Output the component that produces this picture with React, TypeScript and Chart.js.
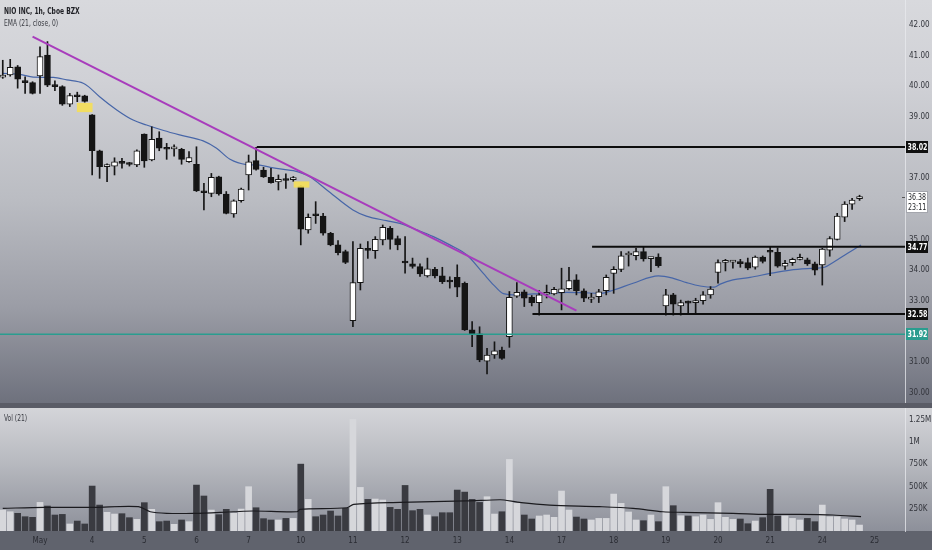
import React, { useEffect, useRef } from "react";
import { Chart, registerables } from "chart.js";

Chart.register(...registerables);

const FONT = "'Liberation Sans Narrow', 'DejaVu Sans Condensed', 'Liberation Sans', Arial, sans-serif";

// ---- data ----
const barsBeforeMay3 = 5; // hourly bars of Apr 30 visible before May 3 09:30

const opens = [
  40.30, 40.37, 40.64, 40.18, 40.12,
  40.34, 41.02, 40.04, 39.99, 39.42, 39.70, 39.69,
  39.07, 37.90, 37.38, 37.40, 37.55, 37.49, 37.44,
  38.44, 37.60, 38.31, 37.98, 37.96, 37.95, 37.54,
  37.46, 36.59, 36.51, 37.05, 36.49, 35.84, 36.27,
  37.11, 37.58, 37.27, 37.03, 36.88, 36.95, 36.96,
  36.75, 35.32, 35.83, 35.77, 35.21, 34.83, 34.61,
  32.36, 33.60, 34.72, 34.64, 34.99, 35.37, 35.04,
  34.29, 34.21, 34.12, 33.82, 34.03, 33.82, 33.67,
  33.77, 33.58, 32.06, 31.93, 31.04, 31.24, 31.40,
  31.84, 33.16, 33.30, 33.12, 32.95, 33.22, 33.23,
  33.27, 33.40, 33.69, 33.33, 33.06, 33.14, 33.34,
  33.90, 34.03, 34.50, 34.48, 34.61, 34.38, 34.43,
  32.84, 33.20, 32.84, 32.98, 32.95, 33.01, 33.20,
  33.93, 34.26, 34.27, 34.29, 34.25, 34.10, 34.43,
  34.63, 34.59, 34.14, 34.25, 34.36, 34.34, 34.21,
  34.18, 34.66, 35.01, 35.73, 36.16, 36.34,
];
const highs = [
  40.85, 40.88, 40.68, 40.31, 40.15,
  41.29, 41.46, 40.18, 40.02, 39.77, 39.81, 39.71,
  39.08, 37.92, 37.47, 37.67, 37.65, 37.52, 37.93,
  38.45, 38.68, 38.52, 38.14, 38.09, 37.98, 37.87,
  38.03, 36.84, 37.16, 37.07, 36.57, 36.30, 36.68,
  37.76, 38.01, 37.36, 37.33, 37.11, 37.15, 37.06,
  36.77, 35.84, 36.24, 35.86, 35.24, 34.97, 34.66,
  34.94, 34.86, 34.94, 35.10, 35.48, 35.43, 35.12,
  35.10, 34.40, 34.21, 34.40, 34.10, 34.10, 33.79,
  34.18, 33.62, 32.33, 32.16, 31.46, 31.67, 31.50,
  33.31, 33.60, 33.36, 33.18, 33.34, 33.52, 33.45,
  34.07, 34.10, 33.86, 33.40, 33.25, 33.38, 33.85,
  34.12, 34.61, 34.61, 34.72, 34.77, 34.42, 34.54,
  33.38, 33.25, 33.03, 33.00, 33.09, 33.31, 33.47,
  34.34, 34.36, 34.33, 34.36, 34.40, 34.47, 34.47,
  34.77, 34.73, 34.33, 34.40, 34.53, 34.40, 34.27,
  34.72, 35.10, 35.86, 36.24, 36.35, 36.45,
];
const lows = [
  40.26, 40.33, 39.94, 39.77, 39.75,
  39.77, 39.99, 39.86, 39.38, 39.34, 39.50, 39.48,
  37.11, 37.00, 36.89, 37.11, 37.33, 37.40, 37.38,
  37.36, 37.57, 37.90, 37.62, 37.72, 37.46, 37.52,
  36.57, 35.97, 36.40, 36.45, 35.84, 35.73, 36.22,
  36.62, 37.27, 37.03, 36.84, 36.62, 36.67, 36.90,
  34.83, 35.21, 35.53, 35.15, 34.80, 34.50, 34.22,
  32.16, 33.36, 34.39, 34.39, 34.83, 34.69, 34.67,
  33.91, 34.07, 33.80, 33.78, 33.75, 33.57, 33.42,
  33.14, 32.04, 31.51, 31.02, 30.62, 31.13, 31.10,
  31.49, 33.12, 32.82, 32.84, 32.54, 33.10, 33.20,
  32.71, 33.36, 33.20, 32.98, 32.95, 32.95, 33.20,
  33.25, 33.96, 34.14, 34.34, 34.30, 33.96, 34.10,
  32.54, 32.54, 32.54, 32.61, 32.61, 32.90, 33.09,
  33.58, 33.98, 34.07, 34.10, 34.02, 34.04, 34.24,
  33.83, 34.10, 34.03, 34.16, 34.34, 34.16, 33.85,
  33.52, 34.46, 34.99, 35.59, 35.99, 36.28,
];
const closes = [
  40.35, 40.62, 40.23, 40.12, 39.77,
  40.97, 40.04, 39.99, 39.42, 39.70, 39.66, 39.51,
  37.90, 37.38, 37.44, 37.54, 37.49, 37.45, 37.90,
  37.57, 38.27, 37.98, 37.95, 37.97, 37.62, 37.68,
  36.59, 36.53, 37.03, 36.49, 35.86, 36.27, 36.65,
  37.54, 37.29, 37.05, 36.86, 36.97, 36.93, 36.97,
  35.34, 35.73, 35.78, 35.21, 34.83, 34.58, 34.26,
  33.60, 34.72, 34.65, 35.01, 35.40, 35.01, 34.83,
  34.24, 34.13, 33.88, 34.05, 33.82, 33.63, 33.62,
  33.45, 32.06, 31.90, 31.08, 31.24, 31.38, 31.13,
  33.12, 33.28, 33.09, 32.95, 33.20, 33.25, 33.38,
  33.40, 33.67, 33.34, 33.09, 33.09, 33.30, 33.77,
  34.03, 34.47, 34.52, 34.61, 34.37, 34.40, 34.15,
  33.20, 32.90, 32.95, 32.93, 33.01, 33.20, 33.39,
  34.25, 34.29, 34.29, 34.22, 34.07, 34.43, 34.29,
  34.59, 34.14, 34.23, 34.36, 34.38, 34.21, 34.01,
  34.69, 35.04, 35.77, 36.16, 36.29, 36.38,
];
// volume in thousands
const volumesK = [
  236, 217, 199, 161, 154,
  322, 281, 180, 187, 79, 112, 79,
  506, 292, 210, 191, 195, 150, 131,
  319, 244, 105, 112, 75, 124, 105,
  517, 394, 236, 184, 244, 199, 247,
  499, 262, 139, 124, 124, 142, 142,
  753, 356, 161, 180, 225, 169, 255,
  1256, 491, 356, 360, 349, 266, 244,
  513, 229, 244, 180, 161, 206, 206,
  461, 438, 356, 322, 386, 191, 217,
  806, 311, 180, 135, 169, 180, 154,
  450, 236, 157, 135, 124, 142, 142,
  416, 311, 214, 124, 116, 180, 105,
  499, 285, 172, 169, 161, 180, 131,
  319, 154, 131, 135, 82, 112, 150,
  469, 169, 169, 142, 124, 142, 105,
  292, 161, 161, 135, 124, 67,
];

// EMA(21) (bar position, price)
const emaIdx = [-5, -2.7, -0.9, 1.8, 3.6, 5.8, 6.5, 8, 10.3, 12.5, 14.3, 16.6, 19, 21.9, 23.7, 25.5, 27.7, 29.5, 30.9, 32.7, 34, 36.2, 38.5, 42, 43.8, 46.5, 48.3, 50.6, 52.8, 55, 57.3, 59.5, 60.9, 62.2, 64, 66.2, 68.5, 70.7, 72.9, 75.2, 77, 79.6, 83, 85, 86.8, 88.6, 90.5, 91.3, 93, 95.3, 98, 100.7, 104, 105.3, 106.6, 108.4, 110.2];
const emaVal = [40.42, 40.39, 40.30, 40.29, 40.21, 40.10, 39.99, 39.66, 39.23, 38.90, 38.74, 38.56, 38.40, 38.22, 37.98, 37.62, 37.45, 37.43, 37.36, 37.29, 37.25, 37.05, 36.62, 35.97, 35.77, 35.62, 35.53, 35.32, 35.10, 34.83, 34.50, 33.90, 33.52, 33.24, 33.20, 33.23, 33.25, 33.28, 33.27, 33.25, 33.36, 33.58, 33.82, 33.74, 33.60, 33.49, 33.45, 33.55, 33.69, 33.77, 33.90, 34.01, 34.07, 34.10, 34.28, 34.56, 34.83];

// Volume MA(21), thousands
const volMaIdx = [-5, 0.5, 7.2, 13.2, 14.8, 17, 20.6, 26, 28.6, 34.5, 34.9, 41.2, 42.1, 48.3, 57.2, 61.7, 62.3, 64.6, 68.4, 75.1, 79.6, 83.6, 86.3, 93, 97.4, 101.9, 106.4, 110.2];
const volMaK = [255, 266, 266, 274, 217, 199, 199, 217, 225, 217, 244, 262, 300, 322, 340, 352, 349, 319, 292, 274, 255, 217, 210, 199, 187, 187, 180, 161];

const dayTickIdx = [0, 7, 14, 21, 28, 35, 42, 49, 56, 63, 70, 77, 84, 91, 98, 105, 112];
const dayTickLabels = ["May", "4", "5", "6", "7", "10", "11", "12", "13", "14", "17", "18", "19", "20", "21", "24", "25"];
const priceTicks = [30, 31, 33, 34, 35, 37, 39, 40, 41, 42];
const volTicksK = [250, 500, 750, 1000, 1250];
const volTickLabels = ["250K", "500K", "750K", "1M", "1.25M"];

// drawings
const levelPrices = [38.02, 34.77, 32.58];
const levelStartIdx = [29.1, 74.1, 66.1];
const supportLevel = 31.92;
const trendIdx = [-1, 72];
const trendPrice = [41.62, 32.69];
const highlightIdx = [6, 35.1];
const highlightLow = [39.17, 36.71];
const highlightHigh = [39.45, 36.89];
const lastPrice = 36.38;
const countdown = "23:11";

// view ranges
const xMin = -5.37;
const xMax = 116.1;
const priceMin = 29.675;
const priceMax = 42.815;
const volMaxK = 1385;

const DARK = "#151515";
const VOL_UP = "#d6d7db";
const VOL_DOWN = "#3a3b41";
const AXIS_TXT = "#33353c";

const idx = opens.map((_, k) => k - barsBeforeMay3);
const isUp = closes.map((c, k) => c >= opens[k]);

const priceLabelsPlugin = {
  id: "priceLabels",
  afterDraw(chart: any) {
    const { ctx, chartArea } = chart;
    const y = chart.scales.y;
    const x0 = chartArea.right + 1;
    const sx = 0.78;
    ctx.save();
    ctx.textBaseline = "middle";
    ctx.textAlign = "left";
    const txt = (s: string, x: number, yy: number) => {
      ctx.save();
      ctx.translate(x, yy);
      ctx.scale(sx, 1);
      ctx.fillText(s, 0, 0);
      ctx.restore();
    };
    const box = (price: number, bg: string, fg: string) => {
      const py = Math.round(y.getPixelForValue(price));
      ctx.fillStyle = bg;
      ctx.fillRect(x0, py - 6, 22, 12);
      ctx.fillStyle = fg;
      ctx.font = `bold 9px ${FONT}`;
      txt(price.toFixed(2), x0 + 1.5, py + 0.5);
    };
    levelPrices.forEach((p) => box(p, "#101010", "#ffffff"));
    box(supportLevel, "#2a9d8f", "#ffffff");
    const py = Math.round(y.getPixelForValue(lastPrice));
    ctx.fillStyle = "#ffffff";
    ctx.fillRect(x0, py - 6, 22, 22);
    ctx.strokeStyle = "#a4a6ad";
    ctx.lineWidth = 1;
    ctx.strokeRect(x0 + 0.5, py - 5.5, 21, 21);
    ctx.fillStyle = "#222428";
    ctx.font = `9px ${FONT}`;
    txt(lastPrice.toFixed(2), x0 + 2, py + 0.5);
    txt(countdown, x0 + 2, py + 10.5);
    ctx.strokeStyle = "#555";
    ctx.beginPath();
    ctx.moveTo(chartArea.right - 3, py + 0.5);
    ctx.lineTo(chartArea.right, py + 0.5);
    ctx.stroke();
    ctx.restore();
  },
};

function hLine(price: number, from: number, color: string, width: number, order: number) {
  return {
    type: "line" as const,
    data: [
      { x: from, y: price },
      { x: xMax, y: price },
    ],
    borderColor: color,
    borderWidth: width,
    pointRadius: 0,
    order,
  };
}

export default function App() {
  const priceRef = useRef<HTMLCanvasElement>(null);
  const volRef = useRef<HTMLCanvasElement>(null);

  useEffect(() => {
    const tickFont = { family: FONT, size: 8 };
    const priceChart = new Chart(priceRef.current as HTMLCanvasElement, {
      type: "bar",
      data: {
        datasets: [
          {
            type: "line",
            data: emaIdx.map((x, k) => ({ x, y: emaVal[k] })),
            borderColor: "#4766a8",
            borderWidth: 1.2,
            pointRadius: 0,
            tension: 0.4,
            cubicInterpolationMode: "monotone",
            order: 5,
          } as any,
          {
            type: "bar",
            data: idx.map((x, k) => ({ x, y: [lows[k], highs[k]] })),
            backgroundColor: DARK,
            barThickness: 1,
            grouped: false,
            order: 4,
          } as any,
          {
            type: "bar",
            data: idx.map((x, k) => ({ x, y: [opens[k], closes[k]] })),
            backgroundColor: isUp.map((u) => (u ? "#ffffff" : DARK)),
            borderColor: DARK,
            borderWidth: 1,
            borderSkipped: false,
            barThickness: 6,
            minBarLength: 2,
            grouped: false,
            order: 3,
          } as any,
          {
            type: "line",
            data: trendIdx.map((x, k) => ({ x, y: trendPrice[k] })),
            borderColor: "#a83cbc",
            borderWidth: 2,
            pointRadius: 0,
            order: 2,
          } as any,
          ...levelPrices.map((p, k) => hLine(p, levelStartIdx[k], "#0d0d0d", 2, 2) as any),
          hLine(supportLevel, xMin, "#2a9d8f", 1.5, 2) as any,
          {
            type: "bar",
            data: highlightIdx.map((x, k) => ({ x, y: [highlightLow[k], highlightHigh[k]] })),
            backgroundColor: "rgba(244,222,88,0.92)",
            barThickness: 15,
            grouped: false,
            order: 1,
          } as any,
        ],
      },
      options: {
        animation: false,
        responsive: false,
        events: [],
        layout: { padding: 0 },
        plugins: { legend: { display: false }, tooltip: { enabled: false } },
        scales: {
          x: { type: "linear", min: xMin, max: xMax, offset: false, display: false },
          y: {
            type: "linear",
            position: "right",
            min: priceMin,
            max: priceMax,
            grid: { display: false, drawTicks: false },
            border: { display: true, color: "rgba(232,233,237,0.75)" },
            ticks: {
              padding: 4,
              color: AXIS_TXT,
              font: tickFont,
              callback: (v: any) => Number(v).toFixed(2),
            },
            afterBuildTicks: (a: any) => {
              a.ticks = priceTicks.map((v) => ({ value: v }));
            },
            afterFit: (a: any) => {
              a.width = 27;
              a.paddingTop = 0;
              a.paddingBottom = 0;
            },
          },
        },
      } as any,
      plugins: [priceLabelsPlugin],
    });

    const volChart = new Chart(volRef.current as HTMLCanvasElement, {
      type: "bar",
      data: {
        datasets: [
          {
            type: "line",
            data: volMaIdx.map((x, k) => ({ x, y: volMaK[k] })),
            borderColor: "#1b1b1f",
            borderWidth: 1.2,
            pointRadius: 0,
            tension: 0.3,
            order: 1,
          } as any,
          {
            type: "bar",
            data: idx.map((x, k) => ({ x, y: volumesK[k] })),
            backgroundColor: isUp.map((u) => (u ? VOL_UP : VOL_DOWN)),
            barThickness: 6,
            grouped: false,
            order: 2,
          } as any,
        ],
      },
      options: {
        animation: false,
        responsive: false,
        events: [],
        layout: { padding: 0 },
        plugins: { legend: { display: false }, tooltip: { enabled: false } },
        scales: {
          x: {
            type: "linear",
            min: xMin,
            max: xMax,
            offset: false,
            grid: { display: false, drawTicks: false },
            border: { display: false },
            ticks: {
              autoSkip: false,
              maxRotation: 0,
              padding: 5,
              color: "#2a2c33",
              font: tickFont,
              callback: (v: any) => {
                const j = dayTickIdx.indexOf(Number(v));
                return j >= 0 ? dayTickLabels[j] : "";
              },
            },
            afterBuildTicks: (a: any) => {
              a.ticks = dayTickIdx.map((v) => ({ value: v }));
            },
            afterFit: (a: any) => {
              a.height = 19;
              a.paddingLeft = 0;
              a.paddingRight = 0;
            },
          },
          y: {
            type: "linear",
            position: "right",
            min: 0,
            max: volMaxK,
            grid: { display: false, drawTicks: false },
            border: { display: true, color: "rgba(232,233,237,0.75)" },
            ticks: {
              padding: 4,
              color: AXIS_TXT,
              font: tickFont,
              callback: (v: any) => {
                const j = volTicksK.indexOf(Number(v));
                return j >= 0 ? volTickLabels[j] : "";
              },
            },
            afterBuildTicks: (a: any) => {
              a.ticks = volTicksK.map((v) => ({ value: v }));
            },
            afterFit: (a: any) => {
              a.width = 27;
              a.paddingTop = 0;
              a.paddingBottom = 0;
            },
          },
        },
      } as any,
    });

    return () => {
      priceChart.destroy();
      volChart.destroy();
    };
  }, []);

  const legendBase: React.CSSProperties = {
    position: "absolute",
    left: 4,
    fontFamily: FONT,
    fontSize: 9,
    lineHeight: "10px",
    whiteSpace: "nowrap",
    transform: "scaleX(0.74)",
    transformOrigin: "left top",
  };

  return (
    <div style={{ position: "fixed", left: 0, top: 0, width: 932, height: 550, overflow: "hidden" }}>
      <div
        style={{
          position: "absolute",
          left: 0,
          top: 0,
          width: 932,
          height: 403,
          background: "linear-gradient(to bottom, #d8d9dd 0%, #d0d1d6 20%, #babcc2 50%, #9b9da6 76%, #6e717d 100%)",
        }}
      />
      <div style={{ position: "absolute", left: 0, top: 403, width: 932, height: 5, background: "#5a5c66" }} />
      <div
        style={{
          position: "absolute",
          left: 0,
          top: 408,
          width: 932,
          height: 123,
          background: "linear-gradient(to bottom, #d4d5d9 0%, #b7b9bf 45%, #8d909a 100%)",
        }}
      />
      <div style={{ position: "absolute", left: 0, top: 531, width: 932, height: 19, background: "#60636d" }} />
      <canvas
        ref={priceRef}
        width={932}
        height={403}
        style={{ position: "absolute", left: 0, top: 0, width: 932, height: 403 }}
      />
      <canvas
        ref={volRef}
        width={932}
        height={142}
        style={{ position: "absolute", left: 0, top: 408, width: 932, height: 142 }}
      />
      <div style={{ ...legendBase, top: 6, color: "#1e1f24", fontWeight: 600 }}>NIO INC, 1h, Cboe BZX</div>
      <div style={{ ...legendBase, top: 18, color: "#3a3c43" }}>EMA (21, close, 0)</div>
      <div style={{ ...legendBase, top: 413, color: "#3a3c43" }}>Vol (21)</div>
    </div>
  );
}
